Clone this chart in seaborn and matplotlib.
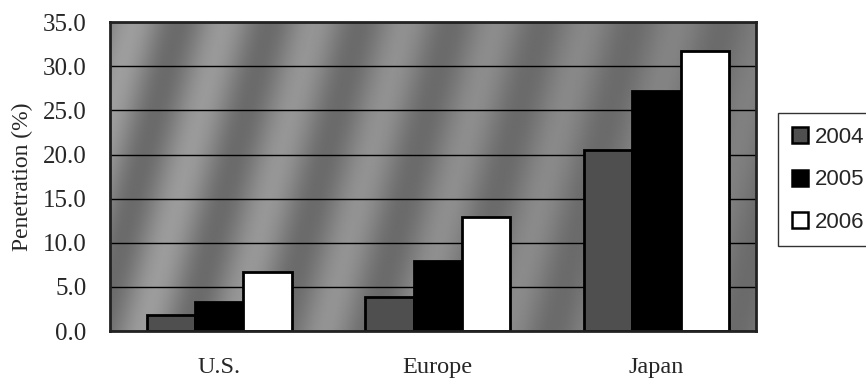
import numpy as np
import pandas as pd
import matplotlib
matplotlib.use("Agg")
import matplotlib.pyplot as plt
import seaborn as sns
from matplotlib.lines import Line2D

regions = ["U.S.", "Europe", "Japan"]
years = ["2004", "2005", "2006"]
pen_2004 = [1.8, 3.9, 20.5]
pen_2005 = [3.3, 7.9, 27.2]
pen_2006 = [6.7, 12.9, 31.7]
y_ticks = [0, 5, 10, 15, 20, 25, 30, 35]

df = pd.DataFrame({
    "Region": regions * 3,
    "Year": [years[0]] * 3 + [years[1]] * 3 + [years[2]] * 3,
    "Penetration": pen_2004 + pen_2005 + pen_2006,
})

sns.set_theme(style="white")
plt.rcParams["font.family"] = ["Liberation Serif", "DejaVu Serif"]

fig = plt.figure(figsize=(8.66, 3.81), dpi=100)
ax = fig.add_axes([0.127, 0.131, 0.746, 0.811])

x_lo, x_hi = -0.5, 2.456

# grey plot area with soft diagonal light bands
ny, nx = 200, 600
yy, xx = np.mgrid[0:ny, 0:nx]
bands = 0.5 + 0.5 * np.sin((xx + 0.37 * yy) / 13.4)
fade = 1.0 - 0.6 * (xx / nx)
shade = 0.42 + 0.2 * bands * fade
ax.imshow(shade, extent=[x_lo, x_hi, 0, 35], aspect="auto", cmap="gray",
          vmin=0, vmax=1, zorder=0, interpolation="bilinear")

palette = {"2004": "#4f4f4f", "2005": "#000000", "2006": "#ffffff"}
sns.barplot(data=df, x="Region", y="Penetration", hue="Year", order=regions,
            hue_order=years, palette=palette, width=0.664, edgecolor="black",
            linewidth=2.0, saturation=1, ax=ax, zorder=3, legend=False)

ax.set_xlim(x_lo, x_hi)
ax.set_ylim(0, 35)
ax.set_yticks(y_ticks)
ax.set_yticklabels([f"{v:.1f}" for v in y_ticks], fontsize=18)
ax.yaxis.grid(True, color="black", linewidth=1.0)
ax.set_axisbelow(False)
for ln in ax.get_ygridlines():
    ln.set_zorder(2)
ax.tick_params(axis="x", labelsize=17.5, pad=19, length=0)
ax.tick_params(axis="y", length=0, pad=17)
ax.set_xlabel("")
ax.set_ylabel("Penetration (%)", fontsize=17)
ax.yaxis.set_label_coords(-0.119, 0.5)
for sp in ax.spines.values():
    sp.set_color("#222222")
    sp.set_linewidth(2.0)
    sp.set_zorder(4)

# legend with square markers, right of the plot area
handles = [Line2D([], [], marker="s", linestyle="none", markersize=11,
                  markerfacecolor=palette[y], markeredgecolor="black",
                  markeredgewidth=1.8) for y in years]
leg = fig.legend(handles, years, loc="center left", bbox_to_anchor=(0.898, 0.528),
                 frameon=True, fancybox=False, edgecolor="black",
                 prop={"family": "Liberation Sans", "size": 16},
                 handletextpad=0.3, labelspacing=0.98, borderpad=0.59,
                 handlelength=0.8, borderaxespad=0)
leg.get_frame().set_linewidth(1.0)

fig.savefig("out.png", dpi=100)
